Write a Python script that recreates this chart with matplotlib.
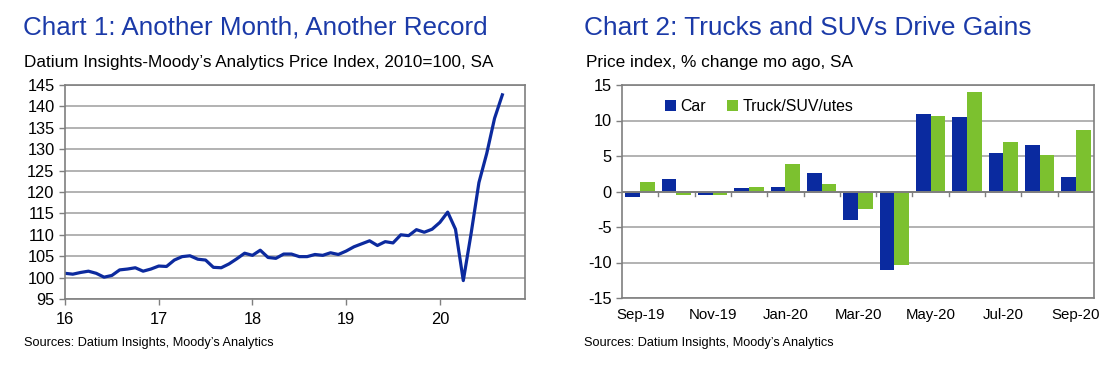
import numpy as np
import matplotlib
matplotlib.use("Agg")
import matplotlib.pyplot as plt

plt.rcParams["font.family"] = ["Liberation Sans", "DejaVu Sans"]
plt.rcParams["axes.unicode_minus"] = False

# Chart 1: monthly index, Jan 2016 - Sep 2020
index_vals = [
    101.0, 100.8, 101.2, 101.5, 101.0, 100.1, 100.5, 101.8, 102.0, 102.3, 101.5, 102.0,
    102.7, 102.6, 104.1, 104.9, 105.1, 104.3, 104.1, 102.4, 102.3, 103.2, 104.4, 105.7,
    105.2, 106.4, 104.7, 104.5, 105.5, 105.5, 104.9, 104.9, 105.4, 105.2, 105.8, 105.4,
    106.2, 107.2, 107.9, 108.6, 107.5, 108.4, 108.1, 110.0, 109.8, 111.2, 110.6, 111.3,
    112.9, 115.3, 111.3, 99.3, 110.3, 122.2, 129.0, 137.2, 142.7,
]
year_labels = ["16", "17", "18", "19", "20"]

# Chart 2: % change mo ago
months = ["Sep-19", "Oct-19", "Nov-19", "Dec-19", "Jan-20", "Feb-20", "Mar-20",
          "Apr-20", "May-20", "Jun-20", "Jul-20", "Aug-20", "Sep-20"]
car = [-0.8, 1.8, -0.5, 0.5, 0.6, 2.6, -4.0, -11.0, 10.9, 10.5, 5.4, 6.5, 2.1]
truck = [1.4, -0.5, -0.5, 0.6, 3.9, 1.1, -2.5, -10.3, 10.7, 14.0, 7.0, 5.2, 8.6]

TITLE_C = "#1B3AA8"
LINE_C = "#0C2A9E"
CAR_C = "#0A2A9F"
TRUCK_C = "#7CC12F"
GRID_C = "#A6A6A6"
AXIS_C = "#7F7F7F"

W, H = 1105, 366
fig = plt.figure(figsize=(W / 100, H / 100), dpi=100)


def box(l, r, t, b):
    return [l / W, (H - b) / H, (r - l) / W, (b - t) / H]


def style(ax):
    for s in ax.spines.values():
        s.set_color(AXIS_C)
        s.set_linewidth(1.2)
    ax.tick_params(colors=AXIS_C, labelcolor="black", labelsize=11.8, width=1, length=4)
    ax.set_axisbelow(True)


# ---- Chart 1
a1 = fig.add_axes(box(65, 525, 85, 299))
x = np.arange(len(index_vals))
a1.plot(x, index_vals, color=LINE_C, lw=2.3, solid_joinstyle="round")
a1.set_xlim(0, 58.9)
a1.set_ylim(95, 145)
a1.set_yticks(np.arange(95, 146, 5))
a1.set_xticks(np.arange(0, 49, 12))
a1.set_xticklabels(year_labels)
a1.yaxis.grid(True, color=GRID_C, lw=1.2)
style(a1)
a1.tick_params(axis="x", pad=5)

fig.text(23 / W, 1 - 28 / H, "Chart 1: Another Month, Another Record", color=TITLE_C,
         fontsize=18.7, va="center", ha="left")
fig.text(24 / W, 1 - 62 / H, "Datium Insights-Moody\u2019s Analytics Price Index, 2010=100, SA",
         fontsize=12.3, va="center", ha="left")
fig.text(24 / W, 1 - 343 / H, "Sources: Datium Insights, Moody\u2019s Analytics",
         fontsize=9.2, va="center", ha="left")

# ---- Chart 2
a2 = fig.add_axes(box(622, 1094, 85, 298))
xc = np.arange(len(months))
bw = 0.405
a2.bar(xc - bw / 2, car, bw, color=CAR_C, label="Car")
a2.bar(xc + bw / 2, truck, bw, color=TRUCK_C, label="Truck/SUV/utes")
a2.set_xlim(-0.5, len(months) - 0.5)
a2.set_ylim(-15, 15)
a2.set_yticks(np.arange(-15, 16, 5))
a2.yaxis.grid(True, color=GRID_C, lw=1.2)
a2.axhline(0, color=AXIS_C, lw=1.4, zorder=3)
style(a2)
a2.set_xticks(xc[::2])
a2.set_xticklabels(months[::2])
a2.tick_params(axis="x", length=0, pad=7, labelsize=10.8)
# category divider ticks on the zero line
for b in np.arange(0.5, len(months) - 0.5, 1):
    a2.plot([b, b], [-0.6, 0], color=AXIS_C, lw=1, zorder=3)
leg = a2.legend(loc="upper left", bbox_to_anchor=(0.06, 1.0), ncol=2, frameon=False,
                fontsize=11.4, handlelength=0.7, handleheight=0.7, handletextpad=0.3,
                columnspacing=1.3)

fig.text(584 / W, 1 - 28 / H, "Chart 2: Trucks and SUVs Drive Gains", color=TITLE_C,
         fontsize=18.9, va="center", ha="left")
fig.text(586 / W, 1 - 62 / H, "Price index, % change mo ago, SA",
         fontsize=12.4, va="center", ha="left")
fig.text(584 / W, 1 - 343 / H, "Sources: Datium Insights, Moody\u2019s Analytics",
         fontsize=9.2, va="center", ha="left")

fig.savefig("out.png", dpi=100)
